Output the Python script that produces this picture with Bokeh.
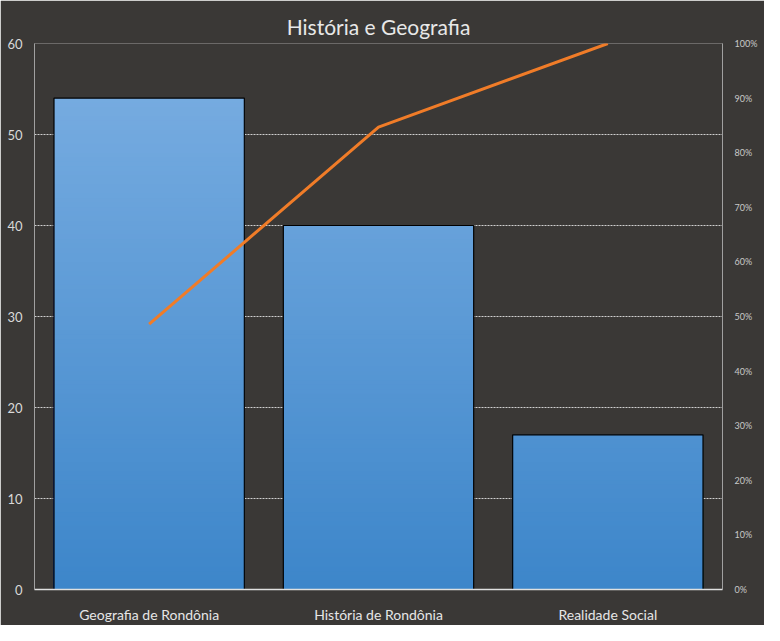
import numpy as np
from bokeh.plotting import figure
from bokeh.models import Range1d, LinearAxis, NumeralTickFormatter, FixedTicker, ColumnDataSource
from bokeh.embed import file_html
from bokeh.resources import INLINE

categories = ["Geografia de Rondônia", "História de Rondônia", "Realidade Social"]
values = [54, 40, 17]
pareto_pct = [0.486, 0.847, 1.0]
left_ticks = [0, 10, 20, 30, 40, 50, 60]
right_ticks = [0, 0.1, 0.2, 0.3, 0.4, 0.5, 0.6, 0.7, 0.8, 0.9, 1.0]

BG = "#3a3836"
FONT = "Lato"

p = figure(width=764, height=625, x_range=categories, y_range=Range1d(0, 60),
           output_backend="svg", toolbar_location=None,
           background_fill_color=BG, border_fill_color=BG,
           min_border_left=34, min_border_right=42, min_border_top=43, min_border_bottom=34)
p.extra_y_ranges = {"pct": Range1d(0, 1)}
p.outline_line_color = None

p.title.text = "História e Geografia"
p.title.align = "center"
p.title.text_color = "#e8e8e8"
p.title.text_font = FONT
p.title.text_font_size = "21px"
p.title.text_font_style = "normal"
p.title.offset = 0
p.title.standoff = 10

# gradient bars: overlapping quads from 0 up to each level, drawn tallest first
c0 = np.array([0x3d, 0x86, 0xca])
c1 = np.array([0x7a, 0xae, 0xe2])
xs, tops, cols = [], [], []
for cat, v in zip(categories, values):
    levels = np.linspace(0, v, int(np.ceil(v)) * 2 + 1)[1:][::-1]
    for t in levels:
        f = min(t / 58.0, 1.0)
        c = (c0 + (c1 - c0) * f).astype(int)
        xs.append(cat); tops.append(t)
        cols.append("#%02x%02x%02x" % tuple(c))
order = np.argsort(-np.array(tops), kind="stable")
src = ColumnDataSource(dict(x=[xs[i] for i in order], top=[tops[i] for i in order],
                            color=[cols[i] for i in order]))
p.vbar(x="x", bottom=0, top="top", width=0.83, source=src,
       fill_color="color", line_color=None)
p.vbar(x=categories, top=values, width=0.83, fill_color=None, line_color="black", line_width=1.2)

# pareto line
p.line(x=categories, y=pareto_pct, y_range_name="pct", line_color="#f07c28", line_width=3)

# axes styling
p.yaxis.ticker = FixedTicker(ticks=left_ticks)
p.yaxis.major_tick_line_color = None
p.yaxis.minor_tick_line_color = None
p.yaxis.axis_line_color = "#a0a0a0"
p.yaxis.major_label_text_color = "#d9d9d9"
p.yaxis.major_label_text_font = FONT
p.yaxis.major_label_text_font_size = "13px"
p.yaxis.major_label_standoff = 6

ra = LinearAxis(y_range_name="pct", ticker=FixedTicker(ticks=right_ticks),
                formatter=NumeralTickFormatter(format="0%"))
ra.major_tick_line_color = None
ra.minor_tick_line_color = None
ra.axis_line_color = "#a0a0a0"
ra.major_label_text_color = "#c8c8c8"
ra.major_label_text_font = FONT
ra.major_label_text_font_size = "9px"
ra.major_label_standoff = 6
p.add_layout(ra, "right")

p.xaxis.major_tick_line_color = None
p.xaxis.minor_tick_line_color = None
p.xaxis.axis_line_color = "#e0e0e0"
p.xaxis.axis_line_width = 1.5
p.xaxis.major_label_text_color = "#e6e6e6"
p.xaxis.major_label_text_font = FONT
p.xaxis.major_label_text_font_size = "14px"
p.xaxis.major_label_standoff = 10

p.xgrid.grid_line_color = None
p.ygrid.ticker = FixedTicker(ticks=left_ticks)
p.ygrid.grid_line_color = "#d0d0d0"
p.ygrid.grid_line_dash = "2 1"
p.ygrid.grid_line_width = 1
p.ygrid.level = "underlay"

open("out.html", "w").write(file_html(p, INLINE))
